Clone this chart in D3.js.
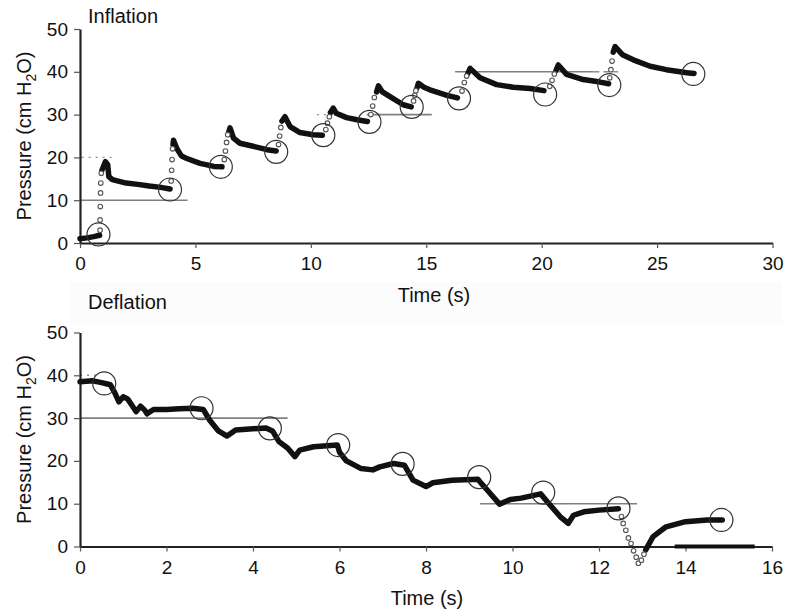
<!DOCTYPE html>
<html>
<head>
<meta charset="utf-8">
<script src="https://cdn.jsdelivr.net/npm/d3@7/dist/d3.min.js"></script>
<style>
  html, body { margin: 0; padding: 0; background: #fff; }
  svg { display: block; font-family: "Liberation Sans", Arial, Helvetica, sans-serif; }
</style>
</head>
<body>
<svg id="chart" width="795" height="611"></svg>
<script>
// ---- Axis ticks ----
const pressureTicks = [0, 10, 20, 30, 40, 50];
const inflationTimeTicks = [0, 5, 10, 15, 20, 25, 30];
const deflationTimeTicks = [0, 2, 4, 6, 8, 10, 12, 14, 16];

// ---- Inflation: slow pressure decay after each step (time s, pressure cm H2O) ----
const inflationPlateaus = [
  [[0, 1.0], [0.3, 1.2], [0.6, 1.5], [0.85, 1.8]],
  [[0.95, 17], [1.1, 19], [1.2, 18.3], [1.25, 15.5], [1.4, 14.8], [2.0, 14.0], [2.5, 13.7], [3.0, 13.3], [3.5, 13.0], [3.9, 12.6]],
  [[4.03, 23], [4.05, 24], [4.2, 22], [4.4, 20.3], [4.6, 19.8], [5.2, 18.6], [5.8, 17.9], [6.15, 17.8]],
  [[6.45, 26], [6.5, 26.9], [6.65, 24.5], [6.93, 23.3], [7.5, 22.6], [8.1, 21.8], [8.5, 21.5]],
  [[8.75, 28.5], [8.88, 29.5], [9.1, 27.2], [9.53, 25.8], [10.1, 25.3], [10.5, 25.2]],
  [[10.85, 30.5], [10.97, 31.5], [11.1, 30.3], [11.55, 29.3], [12.0, 28.8], [12.45, 28.4]],
  [[12.85, 35.3], [12.93, 36.7], [13.1, 35.3], [13.43, 34.2], [14.0, 32.3], [14.35, 31.8]],
  [[14.6, 36.2], [14.66, 37.3], [14.9, 36.4], [15.16, 35.8], [15.9, 34.5], [16.35, 33.9]],
  [[16.8, 39.6], [16.9, 40.8], [17.33, 38.6], [18.05, 37.0], [18.77, 36.4], [19.5, 36.1], [20.1, 35.6]],
  [[20.62, 40.3], [20.72, 41.6], [21.08, 39.4], [21.8, 38.2], [22.53, 37.6], [22.9, 37.2]],
  [[23.1, 44.6], [23.18, 45.9], [23.5, 44.0], [23.97, 42.8], [24.7, 41.3], [25.4, 40.5], [26.29, 39.8], [26.6, 39.6]]
];

// ---- Inflation: fast rise samples at each step ----
const inflationRises = [
  [0.87, 3.0], [0.87, 5.4], [0.88, 8.5], [0.89, 11.7], [0.9, 14.0], [0.92, 16.3],
  [3.95, 14.5], [3.97, 17.0], [3.99, 19.5], [4.01, 22.0],
  [6.25, 19.5], [6.3, 21.5], [6.35, 23.5], [6.4, 25.3],
  [8.6, 23.0], [8.65, 25.0], [8.7, 27.0],
  [10.65, 26.5], [10.72, 28.0], [10.8, 29.5],
  [12.6, 30.0], [12.68, 32.0], [12.75, 34.0],
  [14.45, 33.2], [14.5, 34.5], [14.55, 35.6],
  [16.55, 35.5], [16.65, 37.5], [16.75, 39.0],
  [20.35, 36.6], [20.45, 38.0], [20.55, 39.5],
  [22.95, 38.6], [23.0, 40.5], [23.05, 42.5]
];

// ---- Inflation: end-of-step points (circled) ----
const inflationMarks = [
  [0.8, 2.0], [3.9, 12.5], [6.1, 17.8], [8.5, 21.3], [10.54, 25.2], [12.54, 28.3],
  [14.37, 31.8], [16.42, 33.8], [20.15, 34.7], [22.93, 36.9], [26.57, 39.5]
];

// ---- Inflation: reference pressure levels [pressure, from s, to s] ----
const inflationRefSolid = [[10, 0, 4.66], [30, 12.42, 15.24], [40, 16.25, 22.24]];
const inflationRefDotted = [[20, 0.07, 1.52], [30, 10.26, 11.48]];
const inflationRefDashed = [[40, 22.24, 23.32]];

// ---- Deflation trace (time s, pressure cm H2O) ----
const deflationTrace = [
  [0, 38.5], [0.3, 38.7], [0.5, 38.3], [0.7, 37.8], [0.8, 36.0], [0.9, 33.8], [1.0, 35.0],
  [1.1, 34.5], [1.2, 33.0], [1.3, 31.5], [1.4, 32.8], [1.5, 31.8], [1.55, 31.0], [1.7, 32.0],
  [2.0, 32.0], [2.3, 32.2], [2.6, 32.3], [2.85, 32.0], [3.0, 29.5], [3.2, 27.0], [3.4, 25.8],
  [3.6, 27.2], [4.0, 27.5], [4.3, 27.7], [4.45, 27.0], [4.6, 24.5], [4.8, 23.0], [4.97, 21.0],
  [5.08, 22.5], [5.4, 23.3], [5.95, 23.7], [6.0, 22.0], [6.16, 20.0], [6.5, 18.2], [6.77, 17.9],
  [6.93, 18.6], [7.25, 19.4], [7.5, 19.0], [7.7, 15.5], [8.0, 14.0], [8.16, 14.9], [8.6, 15.5],
  [9.2, 15.7], [9.3, 14.5], [9.45, 12.8], [9.7, 9.9], [9.95, 11.0], [10.2, 11.3], [10.65, 12.3],
  [10.8, 10.5], [11.1, 7.0], [11.29, 5.4], [11.41, 7.3], [11.65, 8.1], [12.0, 8.5], [12.45, 8.8]
];
const deflationRecovery = [
  [13.08, -0.8], [13.25, 2.3], [13.55, 4.6], [14.0, 5.8], [14.5, 6.2], [14.85, 6.2]
];
// ---- Deflation: fast drop samples ----
const deflationDrop = [
  [12.52, 7.0], [12.56, 5.4], [12.62, 3.8], [12.68, 2.0], [12.74, 0.7], [12.8, -1.0],
  [12.86, -2.5], [12.91, -3.9], [12.98, -3.2], [13.04, -1.8]
];
const deflationMarks = [
  [0.56, 38.1], [2.81, 32.3], [4.39, 27.6], [5.97, 23.7], [7.46, 19.3],
  [9.23, 16.2], [10.71, 12.6], [12.45, 8.9], [14.83, 6.2]
];
const deflationRefSolid = [[30, 0, 4.8], [10, 9.25, 12.88]];
const deflationRefDotted = [[40, 0, 0.44]];
const deflationBaseline = [[0, 13.75, 15.6]];

// ---- Drawing ----
const svg = d3.select("#chart");

// faint band between panels
svg.append("rect").attr("x", 70).attr("y", 282).attr("width", 712).attr("height", 42)
  .attr("fill", "#fcfcfc");

function panel(opts) {
  const g = svg.append("g");
  const x = d3.scaleLinear().domain(opts.xDomain).range(opts.xRange);
  const y = d3.scaleLinear().domain([0, 50]).range(opts.yRange);

  // reference levels
  const ref = (rows, dash, width, color) => g.append("g").selectAll("line").data(rows).join("line")
    .attr("x1", d => x(d[1])).attr("x2", d => x(d[2]))
    .attr("y1", d => y(d[0])).attr("y2", d => y(d[0]))
    .attr("stroke", color).attr("stroke-width", width)
    .attr("stroke-dasharray", dash);
  ref(opts.refSolid, null, 1.6, "#808080");
  ref(opts.refDotted || [], "2,5", 1.4, "#909090");
  ref(opts.refDashed || [], "6,4", 1.4, "#909090");

  // axes
  const xAxis = d3.axisBottom(x).tickValues(opts.xTicks).tickSize(5).tickSizeOuter(0).tickPadding(9);
  const yAxis = d3.axisLeft(y).tickValues(pressureTicks).tickSize(6).tickSizeOuter(0).tickPadding(6);
  const gx = g.append("g").attr("transform", `translate(0,${opts.yRange[0]})`).call(xAxis);
  const gy = g.append("g").attr("transform", `translate(${opts.xRange[0]},0)`).call(yAxis);
  [gx, gy].forEach(a => {
    a.select(".domain").attr("stroke", "#222").attr("stroke-width", 2.2);
    a.selectAll(".tick line").attr("stroke", "#555").attr("stroke-width", 1.2);
    a.selectAll(".tick text").attr("font-size", 19).attr("fill", "#111")
      .attr("font-family", "Liberation Sans, Arial, sans-serif");
  });

  if (opts.baseline) {
    g.append("g").selectAll("line").data(opts.baseline).join("line")
      .attr("x1", d => x(d[1])).attr("x2", d => x(d[2]))
      .attr("y1", d => y(d[0])).attr("y2", d => y(d[0]))
      .attr("stroke", "#111").attr("stroke-width", 4);
  }

  // pressure trace
  const line = d3.line().x(d => x(d[0])).y(d => y(d[1])).curve(d3.curveLinear);
  g.append("g").selectAll("path").data(opts.segments).join("path")
    .attr("d", line).attr("fill", "none").attr("stroke", "#111")
    .attr("stroke-width", 5.5).attr("stroke-linejoin", "round").attr("stroke-linecap", "round");

  // rapid-change samples
  g.append("g").selectAll("circle").data(opts.fast).join("circle")
    .attr("cx", d => x(d[0])).attr("cy", d => y(d[1])).attr("r", 2.3)
    .attr("fill", "#fff").attr("stroke", "#555").attr("stroke-width", 1.1);

  // circled end-of-step points
  g.append("g").selectAll("circle").data(opts.marks).join("circle")
    .attr("cx", d => x(d[0])).attr("cy", d => y(d[1])).attr("r", 11.5)
    .attr("fill", "none").attr("stroke", "#333").attr("stroke-width", 1.2);

  // titles
  g.append("text").attr("x", opts.xRange[0] + 8).attr("y", opts.titleY)
    .attr("font-size", 20).attr("fill", "#111").text(opts.title);
  g.append("text").attr("x", opts.xLabelX).attr("y", opts.xLabelY)
    .attr("text-anchor", "middle").attr("font-size", 20).attr("fill", "#111").text("Time (s)");
  const yl = g.append("text")
    .attr("transform", `translate(31,${(opts.yRange[0] + opts.yRange[1]) / 2}) rotate(-90)`)
    .attr("text-anchor", "middle").attr("font-size", 20).attr("fill", "#111");
  yl.append("tspan").text("Pressure (cm H");
  yl.append("tspan").attr("font-size", 14).attr("dy", 5).text("2");
  yl.append("tspan").attr("dy", -5).text("O)");
}

panel({
  xDomain: [0, 30], xRange: [80, 772.5], yRange: [243, 29],
  xTicks: inflationTimeTicks,
  segments: inflationPlateaus, fast: inflationRises, marks: inflationMarks,
  refSolid: inflationRefSolid, refDotted: inflationRefDotted, refDashed: inflationRefDashed,
  title: "Inflation", titleY: 23, xLabelX: 434, xLabelY: 302
});

panel({
  xDomain: [0, 16], xRange: [80, 772], yRange: [546.5, 332.5],
  xTicks: deflationTimeTicks,
  segments: [deflationTrace, deflationRecovery], fast: deflationDrop, marks: deflationMarks,
  refSolid: deflationRefSolid, refDotted: deflationRefDotted, baseline: deflationBaseline,
  title: "Deflation", titleY: 309, xLabelX: 427, xLabelY: 605
});
</script>
</body>
</html>
